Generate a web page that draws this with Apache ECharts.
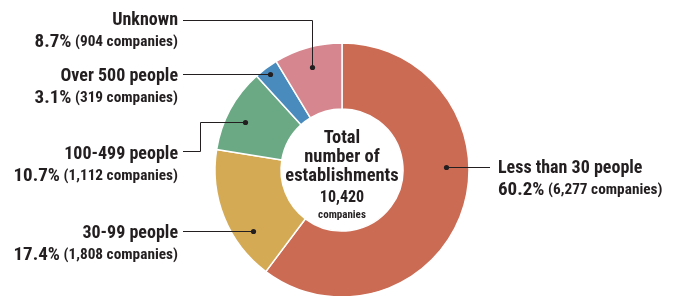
<!DOCTYPE html>
<html>
<head>
<meta charset="utf-8">
<script src="https://cdn.jsdelivr.net/npm/echarts@6/dist/echarts.min.js"></script>
<style>
  html, body { margin: 0; padding: 0; background: #fff; }
  #chart { width: 680px; height: 296px; }
</style>
</head>
<body>
<div id="chart"></div>
<script>
// data
var categories = ['Less than 30 people', '30-99 people', '100-499 people', 'Over 500 people', 'Unknown'];
var companies = [6277, 1808, 1112, 319, 904];
var percents = [60.2, 17.4, 10.7, 3.1, 8.7];
var totalCompanies = 10420;
var colors = ['#cb6b54', '#d4aa55', '#6aa984', '#4a8bbd', '#d5868e'];

// where each label and its leader line go (pixels)
var labelSpots = [
    {x: 498, y: 179, align: 'left', line: [[446.5, 167.5], [490, 167.5]]},
    {x: 178, y: 244, align: 'right', line: [[253.5, 231.5], [183, 231.5]]},
    {x: 178, y: 165, align: 'right', line: [[245.5, 122.5], [200.5, 122.5], [200.5, 151.5], [183, 151.5]]},
    {x: 178, y: 87, align: 'right', line: [[270.5, 74.5], [183, 74.5]]},
    {x: 178, y: 31, align: 'right', line: [[312.5, 67.5], [312.5, 20.5], [183, 20.5]]}
];

var font = "'Roboto Condensed', sans-serif";
var ink = '#231f20';

var chart = echarts.init(document.getElementById('chart'));

var pieData = [];
for (var i = 0; i < categories.length; i++) {
    pieData.push({name: categories[i], value: companies[i], itemStyle: {color: colors[i]}});
}

// leader lines + the small black dots on the slices
var guides = [];
labelSpots.forEach(function (s) {
    guides.push({
        type: 'polyline',
        shape: {points: s.line},
        style: {stroke: ink, lineWidth: 1, fill: null},
        z: 100
    });
    guides.push({
        type: 'circle',
        shape: {cx: s.line[0][0], cy: s.line[0][1], r: 2.6},
        style: {fill: ink},
        z: 101
    });
});

var option = {
    backgroundColor: '#fff',
    animation: false,
    series: [{
        type: 'pie',
        center: [342, 170],
        radius: [61, 127],
        startAngle: 90,
        clockwise: true,
        avoidLabelOverlap: false,
        data: pieData,
        itemStyle: {borderColor: '#fff', borderWidth: 1.5},
        label: {
            show: true,
            position: 'outside',
            color: ink,
            fontFamily: font,
            formatter: function (p) {
                var n = companies[p.dataIndex].toLocaleString('en-US');
                return '{a|' + p.name + '}\n{b|' + percents[p.dataIndex] + '%}{c| (' + n + ' companies)}';
            },
            rich: {
                a: {fontFamily: font, fontWeight: 'bold', fontSize: 18, lineHeight: 22, color: ink},
                b: {fontFamily: font, fontWeight: 'bold', fontSize: 19, lineHeight: 22, color: ink},
                c: {fontFamily: font, fontWeight: 'bold', fontSize: 15.3, lineHeight: 22, color: ink}
            }
        },
        labelLine: {show: false},
        labelLayout: function (params) {
            var s = labelSpots[params.dataIndex];
            return {
                x: s.x,
                y: s.y,
                align: s.align,
                verticalAlign: 'middle'
            };
        }
    }],
    graphic: guides.concat([{
        type: 'text',
        x: 342,
        y: 175,
        z: 100,
        style: {
            text: '{t|Total}\n{t|number of}\n{t|establishments}\n{n|' + totalCompanies.toLocaleString('en-US') + '}\n{s|companies}',
            align: 'center',
            verticalAlign: 'middle',
            fill: ink,
            rich: {
                t: {fontFamily: font, fontWeight: 'bold', fontSize: 18.5, lineHeight: 19, fill: ink, align: 'center'},
                n: {fontFamily: font, fontWeight: 'bold', fontSize: 16, lineHeight: 24, fill: ink, align: 'center'},
                s: {fontFamily: font, fontWeight: 'bold', fontSize: 11, lineHeight: 12, fill: ink, align: 'center'}
            }
        }
    }])
};

chart.setOption(option);
</script>
</body>
</html>
